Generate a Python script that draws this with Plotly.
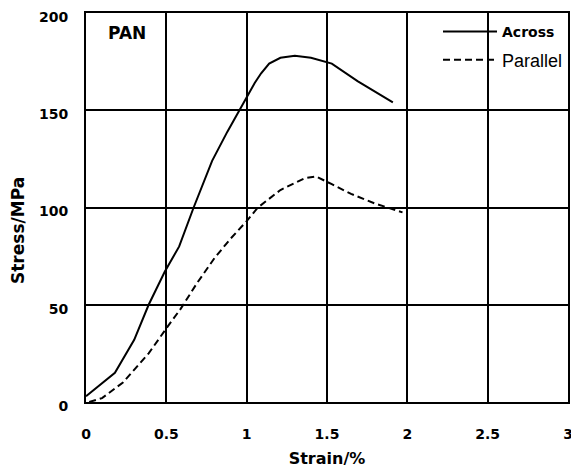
import plotly.graph_objects as go

# Data
across_x = [0.0, 0.18, 0.30, 0.39, 0.49, 0.58, 0.67, 0.785, 0.88, 0.98, 1.05, 1.09, 1.14, 1.21, 1.30, 1.40, 1.53, 1.69, 1.91]
across_y = [3, 15, 32, 50, 67, 80, 100, 124, 139, 154, 164, 169, 174, 177, 178, 177, 174, 165, 154]

parallel_x = [0.02, 0.10, 0.23, 0.39, 0.51, 0.59, 0.69, 0.80, 0.90, 1.00, 1.07, 1.21, 1.36, 1.43, 1.53, 1.65, 1.80, 1.97]
parallel_y = [0, 2, 10, 25, 39, 48, 61, 74, 84, 93, 100, 109, 115, 116, 112, 107, 102, 97.5]

x_ticks = [0, 0.5, 1, 1.5, 2, 2.5, 3]
x_tick_labels = ["0", "0.5", "1", "1.5", "2", "2.5", "3"]
y_ticks = [0, 50, 100, 150, 200]
y_tick_labels = ["0", "50", "100", "150", "200"]

BOLD = "DejaVu Sans"

fig = go.Figure()
fig.add_trace(go.Scatter(
    x=across_x, y=across_y, mode="lines", name="<b>Across</b>",
    line=dict(color="black", width=2), legend="legend", showlegend=True))
fig.add_trace(go.Scatter(
    x=parallel_x, y=parallel_y, mode="lines", name="Parallel",
    line=dict(color="black", width=2, dash="7px,4px"), legend="legend2",
    showlegend=True))

W, H = 571, 470
ml, mr, mt, mb = 86, 3, 13, 68
pw = W - ml - mr
ph = H - mt - mb

def px_x(p):
    return (p - ml) / pw

def px_y(p):
    return (H - mb - p) / ph

fig.update_layout(
    width=W, height=H, showlegend=True,
    margin=dict(l=ml, r=mr, t=mt, b=mb, pad=0, autoexpand=False),
    paper_bgcolor="white", plot_bgcolor="white",
    font=dict(family=BOLD, color="black", size=14),
    legend=dict(x=px_x(438), y=px_y(32), xanchor="left", yanchor="middle",
                bgcolor="rgba(0,0,0,0)", borderwidth=0, itemwidth=54,
                visible=True,
                font=dict(family=BOLD, size=14, color="black")),
    legend2=dict(x=px_x(438), y=px_y(60), xanchor="left", yanchor="middle",
                 bgcolor="rgba(0,0,0,0)", borderwidth=0, itemwidth=54,
                 visible=True,
                 font=dict(family="Liberation Sans", size=18, color="black")),
    xaxis=dict(range=[0, 3], tickvals=x_ticks, ticktext=x_tick_labels,
               automargin=False, ticklabeloverflow="allow",
               showgrid=True, gridcolor="black", gridwidth=1.5,
               showline=True, linecolor="black", linewidth=2, mirror=True,
               zeroline=False, ticks="", ticklabelstandoff=18,
               tickfont=dict(family=BOLD, size=14, color="black", weight="bold"),
               title=dict(text="<b>Strain/%</b>", standoff=12,
                          font=dict(family=BOLD, size=16, color="black"))),
    yaxis=dict(range=[0, 200], tickvals=y_ticks, ticktext=y_tick_labels,
               automargin=False,
               showgrid=True, gridcolor="black", gridwidth=1.5,
               showline=True, linecolor="black", linewidth=2, mirror=True,
               zeroline=False, ticks="", ticklabelstandoff=13,
               ticklabelshift=4,
               tickfont=dict(family=BOLD, size=14, color="black", weight="bold")),
    annotations=[
        dict(text="<b>PAN</b>", xref="paper", yref="paper",
             x=px_x(106), y=px_y(33), xanchor="left", yanchor="middle",
             showarrow=False, font=dict(family=BOLD, size=17, color="black")),
        dict(text="<b>Stress/MPa</b>", xref="paper", yref="paper",
             x=px_x(18), y=px_y(231), xanchor="center", yanchor="middle",
             textangle=-90, showarrow=False,
             font=dict(family=BOLD, size=17, color="black")),
    ],
)

fig.write_html("out.html", config={"displayModeBar": False},
               post_script="document.body.style.margin='0';document.body.style.overflow='hidden';")
